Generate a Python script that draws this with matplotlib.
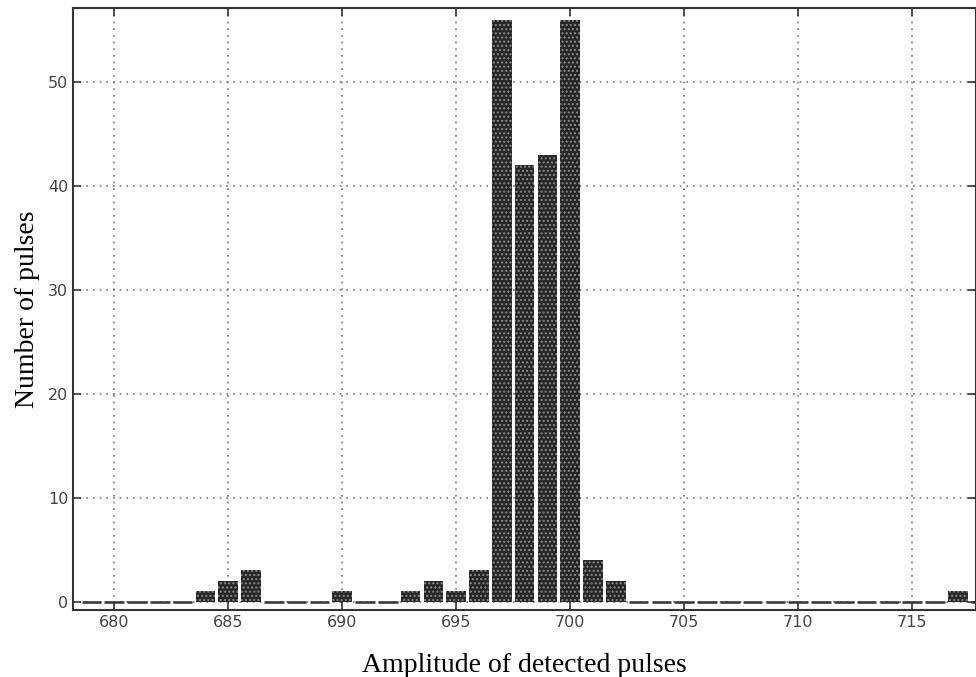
import numpy as np
import matplotlib.pyplot as plt

# histogram bins (integer amplitude) and counts
amplitude = np.arange(679, 719)
counts = np.zeros(len(amplitude), dtype=int)
nonzero_bins = [684, 685, 686, 690, 693, 694, 695, 696, 697, 698, 699, 700, 701, 702, 717]
nonzero_counts = [1, 2, 3, 1, 1, 2, 1, 3, 56, 42, 43, 56, 4, 2, 1]
for b, c in zip(nonzero_bins, nonzero_counts):
    counts[amplitude == b] = c

x_ticks = np.arange(680, 716, 5)
y_ticks = np.arange(0, 51, 10)

fig = plt.figure(figsize=(9.76, 6.77), dpi=100)
ax = fig.add_axes([0.075, 0.099, 0.925, 0.889])

w = 0.86
mask = counts > 0
ax.bar(amplitude[mask], counts[mask], width=w, color='#262626', edgecolor='none', zorder=3)
ax.bar(amplitude[mask], counts[mask], width=w, facecolor='none', edgecolor='#8a8a8a',
       hatch='....', linewidth=0, zorder=4)
zero = amplitude[~mask]
ax.hlines(np.zeros(len(zero)), zero - w / 2, zero + w / 2, color='#333333', lw=1.8, zorder=3)

ax.set_xlim(678.2, 717.8)
ax.set_ylim(-0.8, 57.1)
ax.set_xticks(x_ticks)
ax.set_yticks(y_ticks)
ax.grid(True, linestyle=(0, (1, 3)), color='#777777', linewidth=1.2, zorder=0)
ax.tick_params(direction='in', top=True, right=True, length=6, width=1.2,
               labelsize=11.5, labelcolor='#444444', color='#333333')
for s in ax.spines.values():
    s.set_linewidth(1.5)
    s.set_color('#333333')

ax.set_xlabel('Amplitude of detected pulses', family='Liberation Serif', fontsize=20, labelpad=17)
ax.set_ylabel('Number of pulses', family='Liberation Serif', fontsize=20, labelpad=6)

fig.savefig('out.png', dpi=100)
